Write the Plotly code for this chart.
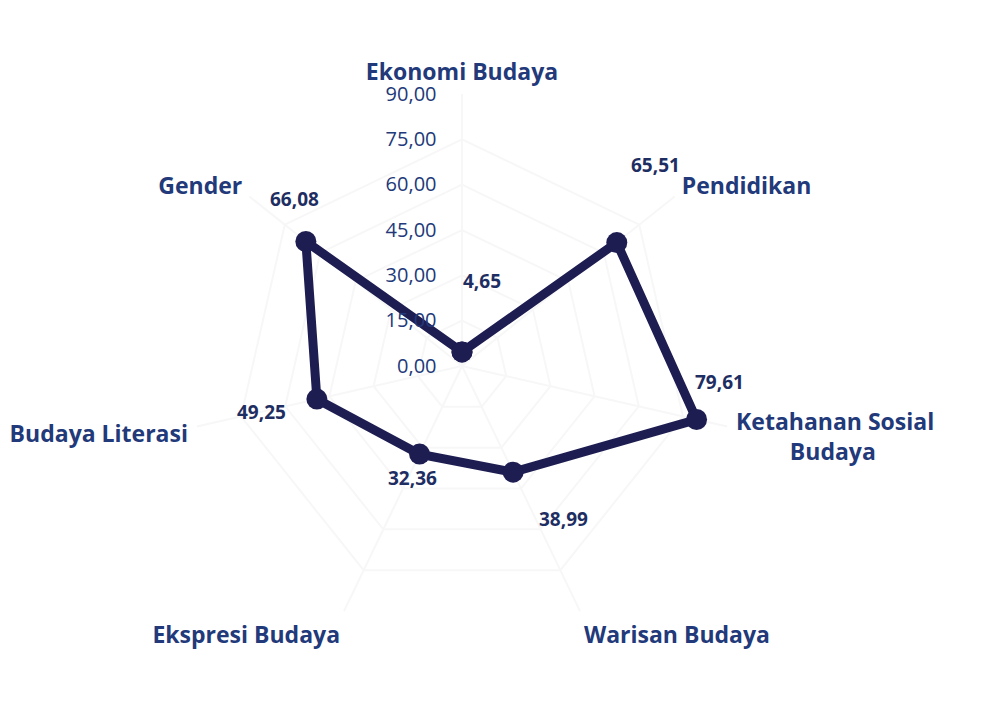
import math
import plotly.graph_objects as go

categories = ["Ekonomi Budaya", "Pendidikan", "Ketahanan Sosial Budaya",
              "Warisan Budaya", "Ekspresi Budaya", "Budaya Literasi", "Gender"]
category_text = ["Ekonomi Budaya", "Pendidikan",
                 "Ketahanan Sosial<br>" + "\u00a0" * 9 + "Budaya",
                 "Warisan Budaya", "Ekspresi Budaya", "Budaya Literasi", "Gender"]
values = [4.65, 65.51, 79.61, 38.99, 32.36, 49.25, 66.08]
value_labels = ["4,65", "65,51", "79,61", "38,99", "32,36", "49,25", "66,08"]
radial_ticks = [0, 15, 30, 45, 60, 75, 90]
radial_ticktext = ["0,00", "15,00", "30,00", "45,00", "60,00", "75,00", "90,00"]

# layout geometry (figure pixels; page body adds an 8px margin)
W, H = 1004, 712
CX, CY, RPX = 454, 358, 272
RMAX = 90
# pixel offsets of data labels from their points (styling)
label_dx = [20, 39, 23, 50, -7, -55, -11]
label_dy = [-71, -78, -38, 47, 24, 13, -42]

LINE = "#1D1D52"
TEXT = "#22397A"
DTEXT = "#1E2E62"
GRID = "#F7F7F7"
FONT = "Open Sans"

fig = go.Figure()
fig.add_trace(go.Scatterpolar(
    r=values + values[:1],
    theta=categories + categories[:1],
    mode="lines+markers",
    line=dict(color=LINE, width=9),
    marker=dict(color=LINE, size=21),
    hoverinfo="skip",
))

annotations = []
n = len(categories)
for i, (v, t) in enumerate(zip(values, value_labels)):
    ang = math.radians(i * 360 / n)
    px = CX + v / RMAX * RPX * math.sin(ang)
    py = CY - v / RMAX * RPX * math.cos(ang)
    annotations.append(dict(
        x=px / W, y=1 - py / H, xref="paper", yref="paper",
        xanchor="center", yanchor="middle",
        text=t, showarrow=False, xshift=label_dx[i], yshift=-label_dy[i],
        font=dict(family=FONT, size=19, color=DTEXT, weight="bold"),
    ))

fig.update_layout(
    width=W, height=H,
    margin=dict(l=0, r=0, t=0, b=0),
    paper_bgcolor="white",
    showlegend=False,
    annotations=annotations,
    polar=dict(
        domain=dict(x=[(CX - RPX) / W, (CX + RPX) / W],
                    y=[1 - (CY + RPX) / H, 1 - (CY - RPX) / H]),
        bgcolor="rgba(0,0,0,0)",
        gridshape="linear",
        radialaxis=dict(
            range=[0, RMAX], tickvals=radial_ticks, ticktext=radial_ticktext,
            angle=90, tickangle=90, side="counterclockwise",
            showline=False, ticks="outside", ticklen=18,
            tickcolor="rgba(0,0,0,0)",
            gridcolor=GRID, gridwidth=2,
            tickfont=dict(family=FONT, size=20, color=TEXT),
        ),
        angularaxis=dict(
            rotation=90, direction="clockwise",
            tickvals=categories, ticktext=category_text,
            showline=False, ticks="outside", ticklen=4,
            tickcolor="rgba(0,0,0,0)",
            gridcolor=GRID, gridwidth=2,
            tickfont=dict(family=FONT, size=23, color=TEXT, weight="bold"),
        ),
    ),
)

fig.write_html("out.html")
